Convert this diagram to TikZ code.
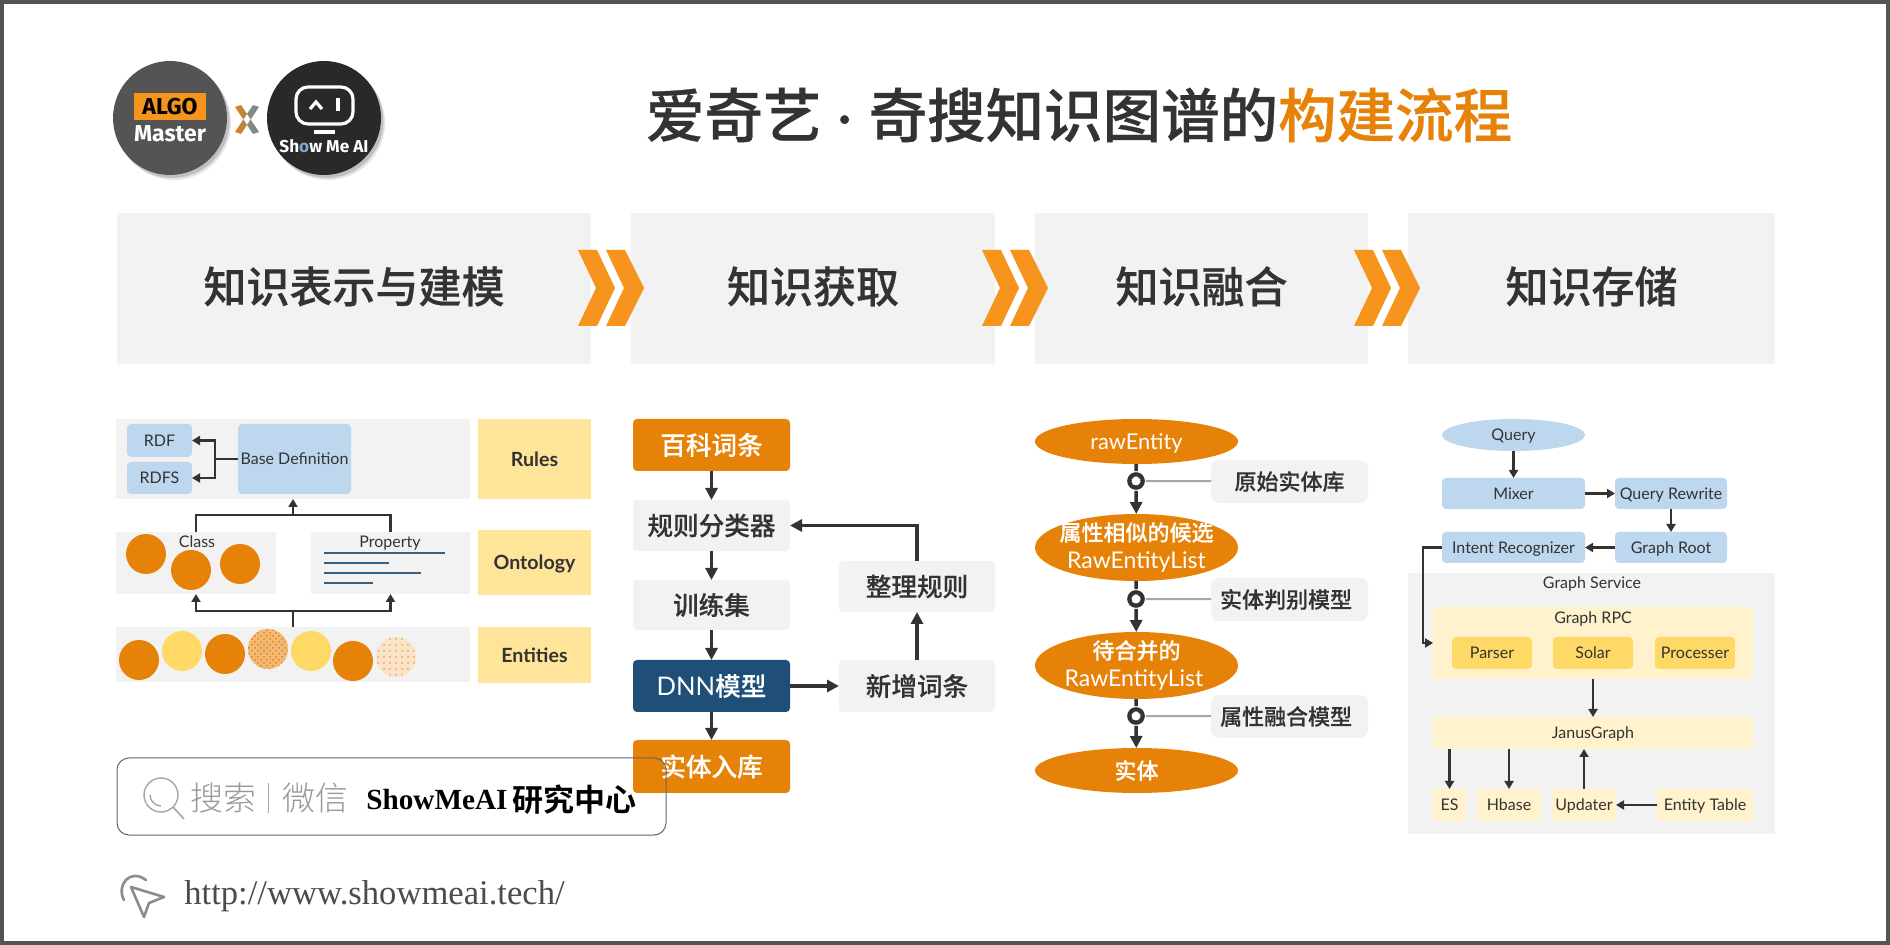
\documentclass[tikz,border=0pt]{standalone}
\usepackage{fontspec}
\usetikzlibrary{arrows.meta,shapes.geometric,patterns,calc}
\setmainfont{Noto Sans CJK SC}
\newfontfamily\cjkm[FakeBold=0.25]{Noto Sans CJK SC Medium}
\newfontfamily\cjkh[FakeBold=0.5]{Noto Sans CJK SC Medium}
\newfontfamily\cjkl{Noto Sans CJK SC Light}
\newfontfamily\cjkb{Noto Sans CJK SC Bold}
\newfontfamily\lat{Lato}
\newfontfamily\latb{Lato Bold}
\newfontfamily\fira{Fira Sans Bold}
\newfontfamily\tmsf{Liberation Serif}
\definecolor{orng}{HTML}{E78208}
\definecolor{chev}{HTML}{F7941D}
\definecolor{yel}{HTML}{FFE599}
\definecolor{yel2}{HTML}{FFF2CC}
\definecolor{yel3}{HTML}{FFD966}
\definecolor{blu}{HTML}{BDD7EE}
\definecolor{nav}{HTML}{1F4E79}
\definecolor{lg}{HTML}{F2F2F2}
\definecolor{ink}{HTML}{333333}
\newcommand{\fs}[1]{\fontsize{#1}{#1}\selectfont}
\newcommand{\bx}[7]{%
  \pgfmathsetmacro\bxcx{(#3+#5)/2}%
  \pgfmathsetmacro\bxcy{(#4+#6)/2}%
  \node[#2,minimum width={(#5-#3)*0.5pt},minimum height={(#6-#4)*0.5pt}] (#1) at (\bxcx,\bxcy) {#7};}
\newcommand{\chv}[1]{%
  \fill[chev] (#1,250)--(#1+19,250)--(#1+37,288)--(#1+19,326)--(#1,326)--(#1+18,288)--cycle;
  \fill[chev] (#1+28,250)--(#1+47,250)--(#1+66,288)--(#1+47,326)--(#1+28,326)--(#1+46,288)--cycle;}
\tikzset{
  base/.style={inner sep=0pt,outer sep=0pt,text=ink},
  head/.style={base,fill=lg,font=\cjkh\fs{21.5},text height=14.3pt,text depth=0pt},
  flat/.style={base,fill=lg},
  capl/.style={text height=5.8pt,text depth=0pt},
  tag/.style={base,fill=yel,font=\latb\fs{9.8},text height=7.2pt,text depth=0pt},
  bb/.style={base,fill=blu,rounded corners=2pt,font=\lat\fs{8},capl},
  yy/.style={base,fill=yel2,font=\lat\fs{8},capl},
  yd/.style={base,fill=yel3,rounded corners=2pt,font=\lat\fs{8},capl},
  cb/.style={base,fill=lg,rounded corners=2pt,font=\cjkm\fs{12.8}},
  ob/.style={base,fill=orng,rounded corners=2pt,text=white,font=\cjkm\fs{12.8}},
  nb/.style={base,fill=nav,rounded corners=2pt,text=white,font=\cjkm\fs{12.8}},
  ell/.style={ellipse,inner sep=-10pt,outer sep=0pt,fill=orng,text=white,align=center},
  sb/.style={base,fill=lg,rounded corners=4pt,font=\cjkm\fs{11}},
  lab/.style={inner sep=0pt,outer sep=0pt,text=ink,font=\lat\fs{8},capl},
  big/.style={-{Triangle[width=6pt,length=6pt]},line width=1.8pt,draw=ink},
  sm/.style={-{Triangle[width=4.5pt,length=4pt]},line width=1.1pt,draw=ink},
  pl/.style={line width=1.1pt,draw=ink},
  gear/.style={circle,inner sep=0pt,outer sep=1.5pt,minimum size=6.8pt,fill=white,draw=ink,line width=2pt,
     preaction={draw=white,line width=5pt},
     path picture={\draw[ink,line width=1pt,dash pattern=on .7pt off .6pt] (path picture bounding box.center) circle (2.8pt);}},
  dot/.style={circle,inner sep=0pt,minimum size=20pt,fill=orng},
  doty/.style={circle,inner sep=0pt,minimum size=20pt,fill=yel3},
}
\begin{document}
\begin{tikzpicture}[x=0.5pt,y=-0.5pt]
\useasboundingbox (0,0) rectangle (1890,945);
\fill[white] (0,0) rectangle (1890,945);
\draw[color=black!67,line width=2pt] (2,2) rectangle (1888,943);
% logos
\foreach \cx in {170,324}{
 \fill[black!10] (\cx+4,118+5) circle (57);
 \fill[black!25] (\cx+2.5,118+3) circle (57);
}
\node[circle,inner sep=0pt,minimum size=57pt,fill=black!67] (lg1) at (170,118) {};
\node[circle,inner sep=0pt,minimum size=57pt,fill=black!84] (lg2) at (324,118) {};
\bx{algo}{inner sep=0pt,fill=chev,text=black,font=\fira\fs{11.5}}{134}{93}{206}{120}{ALGO}
\node[inner sep=0pt,text=white,font=\fira\fs{11.5}] (master) at (170,134) {Master};
\draw[white,line width=1.6pt,rounded corners=6pt] (296,87) rectangle (353,124);
\draw[white,line width=1.6pt] (310,109)--(316,102)--(322,109);
\fill[white] (336,98) rectangle (340,111);
\fill[white] (314,130) rectangle (335,134);
\node[inner sep=0pt,text=white,font=\fira\fs{8.6}] (smai) at (324,146) {Sh\textcolor[HTML]{7FA8CC}{o}w Me AI};
\definecolor{xblue}{HTML}{5B8DB8}
\shade[left color=orng,right color=xblue] (235,107)--(241,105)--(259,132)--(253,134)--cycle (259,107)--(253,105)--(235,132)--(241,134)--cycle;
% title
\node[inner sep=0pt,text=ink,font=\cjkh\fs{29.25}] (title) at (1079,115) {爱奇艺\hspace{8pt}{\lat ·}\hspace{8pt}奇搜知识图谱的\textcolor{orng}{构建流程}};
% headers
\bx{h1}{head}{117}{213}{591}{364}{知识表示与建模}
\bx{h2}{head}{631}{213}{995}{364}{知识获取}
\bx{h3}{head}{1035}{213}{1368}{364}{知识融合}
\bx{h4}{head}{1408}{213}{1775}{364}{知识存储}
\chv{578}\chv{982}\chv{1354}
% section 1
\bx{rulesbg}{flat}{116}{419}{470}{499}{}
\bx{rdf}{bb}{127}{424}{192}{457}{RDF}
\bx{rdfs}{bb}{127}{462}{192}{494}{RDFS}
\bx{bdef}{bb}{238}{424}{351}{494}{Base Definition}
\bx{rules}{tag}{478}{419}{591}{499}{Rules}
\bx{clsbg}{flat}{116}{532}{276}{594}{}
\bx{propbg}{flat}{311}{532}{470}{594}{}
\bx{onto}{tag}{478}{530}{591}{595}{Ontology}
\bx{entbg}{flat}{116}{627}{470}{682}{}
\bx{ents}{tag}{478}{627}{591}{683}{Entities}
\node[lab] (cls) at (197,542) {Class};
\node[lab] (prp) at (390,542) {Property};
\node[dot] (c1) at (146,554) {};
\node[dot] (c2) at (191,570) {};
\node[dot] (c3) at (240,564) {};
\foreach \a/\b in {445/553,389/563,421/573,373/583}{\draw[color=nav!90,line width=1pt] (324,\b)--(\a,\b);}
\node[dot] (e1c) at (139,660) {};
\node[doty] (e2c) at (182,651) {};
\node[dot] (e3c) at (225,654) {};
\fill[orng!55] (268,649) circle (20);
\fill[pattern=crosshatch dots,pattern color=orng] (268,649) circle (20);
\node[doty] (e5c) at (311,651) {};
\node[dot] (e6c) at (353,661) {};
\fill[orng!22] (396,657) circle (20);
\fill[pattern=dots,pattern color=orng!70] (396,657) circle (20);
\coordinate (j0) at (215,459);
\coordinate (j1) at (293,515);
\coordinate (j2) at (293,611);
\draw[sm] (bdef.west) -- (j0) |- (rdf.east);
\draw[sm] (j0) |- (rdfs.east);
\draw[pl] (clsbg.north) |- (j1) -| (propbg.north);
\draw[sm] (j1) -- (rulesbg.south);
\draw[sm] (entbg.north) -- (j2) -| (clsbg.south);
\draw[sm] (j2) -| (propbg.south);
% section 2
\bx{bk}{ob}{633}{419}{790}{471}{百科词条}
\bx{gz}{cb}{633}{500}{790}{551}{规则分类器}
\bx{xl}{cb}{633}{580}{790}{630}{训练集}
\bx{dnn}{nb}{633}{660}{790}{712}{{\lat\fs{12.8}DNN}模型}
\bx{rk}{ob}{633}{740}{790}{793}{实体入库}
\bx{zl}{cb}{839}{561}{995}{612}{整理规则}
\bx{xz}{cb}{839}{660}{995}{712}{新增词条}
\draw[big] (bk) -- (gz);
\draw[big] (gz) -- (xl);
\draw[big] (xl) -- (dnn);
\draw[big] (dnn) -- (rk);
\draw[big] (dnn) -- (xz);
\draw[big] (xz) -- (zl);
\draw[big] (zl.north) |- (gz.east);
% section 3
\node[ell,minimum width=101.5pt,minimum height=22.5pt,font=\lat\fs{10.9},text height=8pt,text depth=0pt] (e1) at (1136.5,441.5) {rawEntity};
\node[ell,minimum width=101.5pt,minimum height=33.5pt,font=\cjkm\fs{11}] (e2) at (1136.5,547.5) {属性相似的候选\\[3pt]{\lat\fs{11.5}RawEntityList}};
\node[ell,minimum width=101.5pt,minimum height=33.5pt,font=\cjkm\fs{11}] (e3) at (1136.5,665.5) {待合并的\\[3pt]\hspace{-2.5pt}{\lat\fs{11.5}RawEntityList}};
\node[ell,minimum width=101.5pt,minimum height=22.5pt,font=\cjkm\fs{11}] (e4) at (1136.5,770.5) {实体};
\bx{s1}{sb}{1211}{460}{1368}{503}{原始实体库}
\bx{s2}{sb}{1211}{578}{1368}{621}{\hspace{-3.4pt}实体判别模型}
\bx{s3}{sb}{1211}{695}{1368}{738}{\hspace{-3.4pt}属性融合模型}
\node[gear] (g1) at (1136,481) {};
\node[gear] (g2) at (1136,599) {};
\node[gear] (g3) at (1136,716) {};
\draw[line width=1.8pt,draw=ink] (e1) -- (g1);
\draw[line width=1.8pt,draw=ink] (e2) -- (g2);
\draw[line width=1.8pt,draw=ink] (e3) -- (g3);
\draw[big] (g1) -- (e2);
\draw[big] (g2) -- (e3);
\draw[big] (g3) -- (e4);
\draw[line width=1pt,draw=black!35] (g1) -- (s1);
\draw[line width=1pt,draw=black!35] (g2) -- (s2);
\draw[line width=1pt,draw=black!35] (g3) -- (s3);
% section 4
\bx{gsv}{flat}{1408}{573}{1775}{834}{}
\node[ellipse,inner sep=-10pt,outer sep=0pt,fill=blu,text=ink,minimum width=71.5pt,minimum height=16pt,font=\lat\fs{8},capl] (qry) at (1513.5,435) {Query};
\bx{mx}{bb}{1442}{478}{1585}{509}{Mixer}
\bx{qr}{bb}{1615}{478}{1727}{509}{Query Rewrite}
\bx{ir}{bb}{1442}{532}{1585}{563}{Intent Recognizer}
\bx{gr}{bb}{1615}{532}{1727}{563}{Graph Root}
\node[lab] (gst) at (1592,583) {Graph Service};
\bx{rpc}{yy}{1433}{607}{1753}{679}{}
\node[lab] (rpct) at (1593,618) {Graph RPC};
\bx{ps}{yd}{1452}{637}{1532}{669}{Parser}
\bx{sl}{yd}{1553}{637}{1633}{669}{Solar}
\bx{pc}{yd}{1655}{637}{1735}{669}{Processer}
\bx{jg}{yy}{1433}{717}{1753}{749}{JanusGraph}
\bx{es}{yy}{1433}{789}{1466}{821}{ES}
\bx{hb}{yy}{1477}{789}{1541}{821}{Hbase}
\bx{up}{yy}{1552}{789}{1616}{821}{Updater}
\bx{et}{yy}{1657}{789}{1753}{821}{Entity Table}
\coordinate (jx) at (1423,600);
\draw[sm] (qry) -- (mx);
\draw[sm] (mx) -- (qr);
\draw[sm] (qr) -- (gr);
\draw[sm] (gr) -- (ir);
\draw[sm] (ir.west) -| (jx) |- (rpc.west);
\draw[sm] (rpc) -- (jg);
\draw[sm] (es.north |- jg.south) -- (es.north);
\draw[sm] (hb.north |- jg.south) -- (hb.north);
\draw[sm] (up.north) -- (up.north |- jg.south);
\draw[sm] (et) -- (up);
% search box
\draw[black!60,line width=.5pt,rounded corners=6pt] (117,758) rectangle (666,835);
\draw[black!35,line width=.7pt] (161,795) circle (17);
\draw[black!35,line width=.7pt] (150,795) arc (180:90:11);
\draw[black!35,line width=.8pt] (173,807) -- (184,819);
\node[inner sep=0pt,text=black!40,font=\cjkl\fs{16.5},anchor=west] (ss) at (190,798) {搜索};
\fill[black!35] (267.5,783) rectangle (268.5,813);
\node[inner sep=0pt,text=black!40,font=\cjkl\fs{16.5},anchor=west] (wx) at (282,798) {微信};
\node[inner sep=0pt,text=black,font=\tmsf\bfseries\fs{14.6},anchor=west] (sm) at (366,800) {ShowMeAI};
\node[inner sep=0pt,text=black,font=\cjkb\fs{15.5},anchor=west] (yj) at (512,800) {研究中心};
% url
\draw[black!45,line width=1.3pt,line join=round] (131,887)--(164,897)--(149,903)--(144,917)--cycle;
\draw[black!45,line width=1.3pt,line cap=round] (124,900) .. controls (116,885) and (130,868) .. (146,880);
\node[inner sep=0pt,text=black!70,font=\tmsf\fs{17.3},anchor=west] (url) at (184,896) {http://www.showmeai.tech/};
\end{tikzpicture}
\end{document}
